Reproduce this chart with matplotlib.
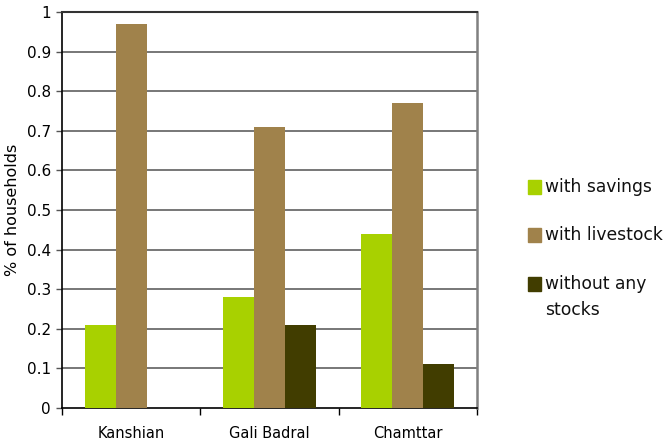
import matplotlib
matplotlib.use("Agg")
import matplotlib.pyplot as plt
from matplotlib.patches import Rectangle
import numpy as np

categories = ["Kanshian", "Gali Badral", "Chamttar"]
series_names = ["with savings", "with livestock", "without any\nstocks"]
savings = [0.21, 0.28, 0.44]
livestock = [0.97, 0.71, 0.77]
no_stocks = [0.0, 0.21, 0.11]
yticks = [0, 0.1, 0.2, 0.3, 0.4, 0.5, 0.6, 0.7, 0.8, 0.9, 1]
ytick_labels = ["0", "0.1", "0.2", "0.3", "0.4", "0.5", "0.6", "0.7", "0.8", "0.9", "1"]

colors = ["#a8d100", "#a0824b", "#413d00"]
values = [savings, livestock, no_stocks]

plt.rcParams['font.family'] = ['DejaVu Sans']
fig = plt.figure(figsize=(6.7, 4.46), dpi=100)
ax = fig.add_axes([62/670, 1-408/446, (477-62)/670, (408-12)/446])

x = np.arange(len(categories))
w = 0.224
for i, (vals, c) in enumerate(zip(values, colors)):
    ax.bar(x + (i-1)*w, vals, width=w, color=c, zorder=3, linewidth=0)

ax.set_xlim(-0.5, 2.5)
ax.set_ylim(0, 1)
ax.set_yticks(yticks)
ax.set_yticklabels(ytick_labels, fontsize=11)
for yv in yticks[1:-1]:
    ax.axhline(yv, color="#777777", lw=1.4, zorder=2)

ax.set_xticks([-0.5, 0.5, 1.5, 2.5])
ax.set_xticklabels([])
ax.set_xticks(x, minor=True)
ax.set_xticklabels(categories, minor=True, fontsize=10.5)
ax.tick_params(axis='x', which='major', length=5, width=1, color='black')
ax.tick_params(axis='x', which='minor', length=0, pad=13)
ax.tick_params(axis='y', length=4, width=1, color='#555555', pad=4)

for s in ["left", "bottom"]:
    ax.spines[s].set_color("black")
    ax.spines[s].set_linewidth(1.2)
ax.spines["top"].set_color("#333333")
ax.spines["top"].set_linewidth(1.5)
ax.spines["right"].set_color("#808080")
ax.spines["right"].set_linewidth(1.8)

ax.set_ylabel("% of households", fontsize=11.5)
ax.yaxis.set_label_coords(-0.1, 0.5)

# legend
ly = [187, 235, 284]
for name, c, yc in zip(series_names, colors, ly):
    fig.patches.append(Rectangle((528/670, 1-(yc+7)/446), 13/670, 14/446,
                                 transform=fig.transFigure, color=c, figure=fig))
    for j, line in enumerate(name.split("\n")):
        fig.text(545/670, 1-(yc + j*26)/446, line, fontsize=12.3, va='center', ha='left', color='#111111')

fig.savefig("out.png", dpi=100)
